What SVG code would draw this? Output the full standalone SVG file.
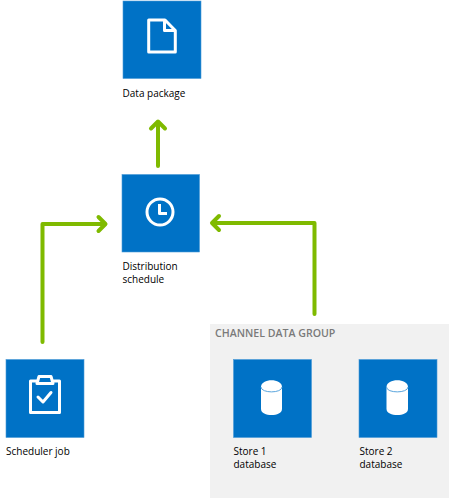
<svg xmlns="http://www.w3.org/2000/svg" width="450" height="498" viewBox="0 0 450 498">
<style>
.tile{fill:#0072c6;stroke:#4a9ad8;stroke-width:.6}
.t{font-family:"Open Sans","Noto Sans",sans-serif;font-size:10px;fill:#000}
.g{font-family:"Open Sans","Noto Sans",sans-serif;font-size:10.6px;font-weight:600;fill:#7a7a7a}
.c{fill:none;stroke:#7fba00;stroke-width:4;stroke-linecap:round;stroke-linejoin:round}
.i{fill:none;stroke:#fff;stroke-width:3;stroke-linejoin:round}
.db{fill:#fff}
.dl{fill:none;stroke:#5aa5dd;stroke-width:1}
</style>
<rect width="450" height="498" fill="#fff"/>
<g id="channel-data-group">
<rect x="210" y="324" width="239" height="174" fill="#f1f1f1"/>
<text class="g" x="215" y="337">CHANNEL DATA GROUP</text>
</g>
<g id="connectors">
<path class="c" d="M158 166V122M151 128.500L158 121.500L165 128.500"/>
<path class="c" d="M42.500 342V224H105M98.500 217L105.500 224L98.500 231"/>
<path class="c" d="M314.500 314V223H212.500M219 216L212 223L219 230"/>
</g>
<g id="data-package">
<rect class="tile" x="123" y="1" width="78" height="77.500"/>
<path class="i" d="M148.700 20H165L175.300 30.500V52H148.700ZM164.500 20V30.500H175.300"/>
<text class="t" x="122.500" y="97">Data package</text>
</g>
<g id="distribution-schedule">
<rect class="tile" x="122" y="174.500" width="77.500" height="77.500"/>
<circle class="i" cx="160" cy="212" r="13"/>
<path class="i" d="M159.500 204V213.500H167"/>
<text class="t" x="122.500" y="270">Distribution</text>
<text class="t" x="122.500" y="283">schedule</text>
</g>
<g id="scheduler-job">
<rect class="tile" x="6" y="359.500" width="78" height="78"/>
<path class="i" d="M37 381H30.500V412.500H59.500V381H53M37 383.500L39 376.500H51L53 383.500Z"/>
<path class="i" d="M38 397L43 402L51 392.500" stroke-linecap="round"/>
<text class="t" x="6" y="455">Scheduler job</text>
</g>
<g id="store-1-database">
<rect class="tile" x="233.500" y="359.500" width="78" height="78"/>
<path class="db" d="M261 387C261 378 282 378 282 387V409C282 417 261 417 261 409Z"/>
<path class="dl" d="M261 387C261 393.500 282 393.500 282 387"/>
<text class="t" x="233.500" y="455">Store 1</text>
<text class="t" x="233.500" y="468">database</text>
</g>
<g id="store-2-database">
<rect class="tile" x="359" y="359.500" width="78" height="78"/>
<path class="db" d="M386.500 387C386.500 378 408 378 408 387V409C408 417 386.500 417 386.500 409Z"/>
<path class="dl" d="M386.500 387C386.500 393.500 408 393.500 408 387"/>
<text class="t" x="359.500" y="455">Store 2</text>
<text class="t" x="359.500" y="468">database</text>
</g>
</svg>
